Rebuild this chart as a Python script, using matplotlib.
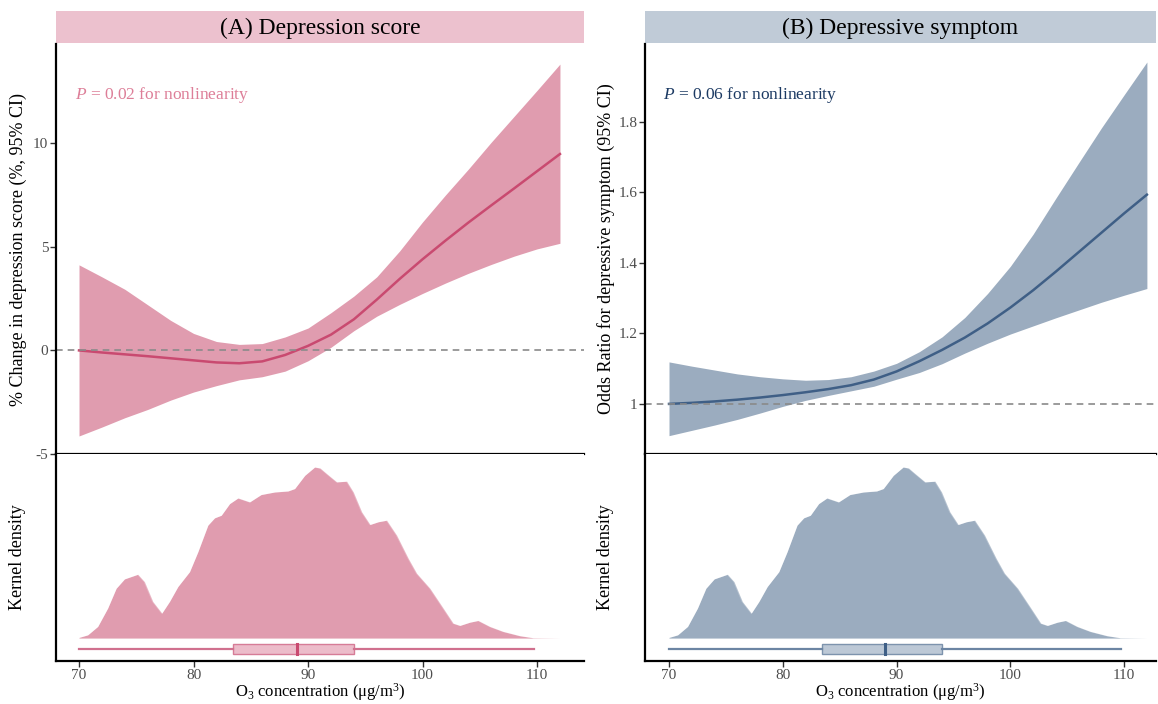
import numpy as np
import matplotlib
matplotlib.use("Agg")
import matplotlib.pyplot as plt

plt.rcParams['font.family'] = ['Liberation Serif', 'DejaVu Serif']
plt.rcParams['mathtext.fontset'] = 'custom'
plt.rcParams['mathtext.rm'] = 'Liberation Serif'
plt.rcParams['mathtext.it'] = 'Liberation Serif:italic'

# ---- data ----
o3_grid = [70, 72, 74, 76, 78, 80, 82, 84, 86, 88, 90, 92, 94, 96, 98,
           100, 102, 104, 106, 108, 110, 112]

# (A) % change in depression score
dep_fit = [0.0, -0.1, -0.19, -0.28, -0.38, -0.48, -0.58, -0.62, -0.53, -0.22,
           0.22, 0.76, 1.5, 2.45, 3.45, 4.4, 5.3, 6.17, 7.0, 7.82, 8.65, 9.48]
dep_upper = [4.13, 3.55, 2.95, 2.2, 1.45, 0.82, 0.43, 0.29, 0.33, 0.65,
             1.08, 1.82, 2.62, 3.55, 4.8, 6.2, 7.5, 8.75, 10.05, 11.3, 12.55, 13.82]
dep_lower = [-4.13, -3.7, -3.25, -2.85, -2.4, -2.01, -1.7, -1.42, -1.27, -1.0,
             -0.5, 0.15, 0.95, 1.65, 2.22, 2.75, 3.25, 3.72, 4.15, 4.55, 4.9, 5.17]

# (B) odds ratio for depressive symptom
sym_fit = [1.0, 1.003, 1.007, 1.012, 1.018, 1.025, 1.033, 1.042, 1.053, 1.069,
           1.092, 1.121, 1.153, 1.188, 1.228, 1.273, 1.322, 1.375, 1.43, 1.485, 1.54, 1.593]
sym_upper = [1.119, 1.107, 1.096, 1.085, 1.077, 1.071, 1.067, 1.069, 1.077, 1.093,
             1.115, 1.148, 1.19, 1.245, 1.313, 1.39, 1.481, 1.583, 1.683, 1.782, 1.876, 1.969]
sym_lower = [0.91, 0.925, 0.94, 0.956, 0.974, 0.993, 1.01, 1.024, 1.037, 1.05,
             1.07, 1.089, 1.114, 1.144, 1.172, 1.198, 1.221, 1.244, 1.266, 1.288, 1.308, 1.327]

# kernel density of O3 (scaled to peak = 1)
dens_x = [70, 70.76, 71.63, 72.5, 73.24, 73.97, 75.13, 75.71, 76.44, 77.23, 77.9,
          78.63, 79.65, 80.38, 81.25, 81.84, 82.42, 83.15, 83.88, 84.9, 85.9, 87.08,
          88.25, 88.83, 89.71, 90.58, 91.05, 91.63, 92.5, 93.37, 93.95, 94.68, 95.41,
          96.13, 96.86, 97.73, 98.75, 99.48, 100.64, 101.8, 102.67, 103.26, 104.13,
          104.85, 105.87, 107.03, 108.49, 109.65, 112]
dens_y = [0.004, 0.019, 0.068, 0.175, 0.291, 0.346, 0.373, 0.33, 0.214, 0.146, 0.214,
          0.301, 0.388, 0.505, 0.66, 0.703, 0.718, 0.786, 0.819, 0.796, 0.839, 0.854,
          0.86, 0.874, 0.951, 1.0, 0.994, 0.961, 0.913, 0.917, 0.854, 0.738, 0.664,
          0.68, 0.689, 0.602, 0.466, 0.379, 0.291, 0.175, 0.087, 0.074, 0.093,
          0.103, 0.068, 0.039, 0.014, 0.002, 0.0]

# box plot summary of O3: lower whisker, Q1, median, Q3, upper whisker
o3_box = [70.0, 83.45, 89.0, 94.0, 109.7]

x_ticks = [70, 80, 90, 100, 110]

fig = plt.figure(figsize=(11.58, 7.04), dpi=100)
W, H = 1158, 704


def px_axes(left, top, right, bottom):
    return fig.add_axes([left / W, 1 - bottom / H, (right - left) / W, (bottom - top) / H])


def style(ax):
    for s in ['top', 'right']:
        ax.spines[s].set_visible(False)
    for s in ['left', 'bottom']:
        ax.spines[s].set_linewidth(1.6)
        ax.spines[s].set_color('black')
    ax.tick_params(length=4, width=1.0, color='#333333', labelcolor='#4D4D4D',
                   labelsize=11, pad=1.5)


def panel(left, right, xlim, title, strip_col, band_col, line_col, p_text, p_col,
          fit, upper, lower, ylim, yticks, ylabels, ylab, ylab_x,
          box_fill, box_edge, whisk_col, med_col):
    # strip
    sx = fig.add_axes([left / W, 1 - 43 / H, (right - left) / W, 32 / H])
    sx.set_facecolor(strip_col)
    sx.set_xticks([])
    sx.set_yticks([])
    for s in sx.spines.values():
        s.set_visible(False)
    sx.text(0.5, 0.45, title, ha='center', va='center', fontsize=17, transform=sx.transAxes)

    # top panel
    ax = px_axes(left, 44, right, 454)
    style(ax)
    ax.fill_between(o3_grid, lower, upper, color=band_col, linewidth=0)
    ax.plot(o3_grid, fit, color=line_col, linewidth=1.8)
    ax.axhline(1 if ylim[0] > 0 else 0, color='#8A8A8A', linestyle=(0, (4, 3)), linewidth=1.2)
    ax.set_xlim(*xlim)
    ax.set_ylim(*ylim)
    ax.set_xticks(x_ticks)
    ax.set_xticklabels([])
    ax.set_yticks(yticks)
    ax.set_yticklabels(ylabels)
    ax.text(0.036, 0.876, p_text, color=p_col, fontsize=12.5, transform=ax.transAxes,
            va='center', ha='left')
    fig.text(ylab_x / W, 1 - 249 / H, ylab, rotation=90, ha='center', va='center', fontsize=13)

    # density panel
    bx = px_axes(left, 454, right, 661)
    style(bx)
    bx.fill_between(dens_x, 0, dens_y, color=band_col, linewidth=0)
    bx.plot(dens_x, dens_y, color='white', alpha=0.25, linewidth=1.0)
    lo, q1, med, q3, hi = o3_box
    yb = -0.064
    bx.plot([lo, q1], [yb, yb], color=whisk_col, linewidth=1.6)
    bx.plot([q3, hi], [yb, yb], color=whisk_col, linewidth=1.6)
    bx.add_patch(plt.Rectangle((q1, yb - 0.03), q3 - q1, 0.06, facecolor=box_fill,
                               edgecolor=box_edge, linewidth=1.0))
    bx.plot([med, med], [yb - 0.03, yb + 0.03], color=med_col, linewidth=2.2)
    bx.set_xlim(*xlim)
    bx.set_ylim(-0.134, 1.076)
    bx.set_yticks([])
    bx.set_xticks(x_ticks)
    fig.text((left + right) / 2 / W, 1 - 697 / H, r'O$_3$ concentration (μg/m$^3$)',
             ha='center', va='baseline', fontsize=12)
    fig.text(ylab_x / W, 1 - 557 / H, 'Kernel density', rotation=90, ha='center',
             va='center', fontsize=13)


panel(56, 584, (67.99, 114.1), '(A) Depression score', '#ECC1CE', '#E09CAF', '#C94A70',
      r'$P$ = 0.02 for nonlinearity', '#DD7E98',
      dep_fit, dep_upper, dep_lower, (-5, 14.79), [-5, 0, 5, 10], ['-5', '0', '5', '10'],
      '% Change in depression score (%, 95% CI)', 18,
      '#ECBCCA', '#D67C97', '#D0708E', '#C94A70')

panel(645, 1156, (67.89, 112.8), '(B) Depressive symptom', '#C0CBD7', '#9BACBF', '#3F5F86',
      r'$P$ = 0.06 for nonlinearity', '#1C3A63',
      sym_fit, sym_upper, sym_lower, (0.858, 2.02), [1, 1.2, 1.4, 1.6, 1.8],
      ['1', '1.2', '1.4', '1.6', '1.8'],
      'Odds Ratio for depressive symptom (95% CI)', 606,
      '#BCC8D6', '#7D93AD', '#6C85A3', '#3F5F86')

fig.savefig('out.png', dpi=100)
